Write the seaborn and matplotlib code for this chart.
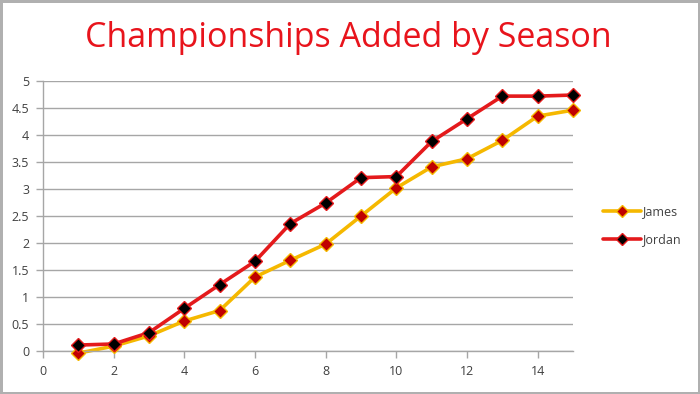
import numpy as np
import pandas as pd
import matplotlib
matplotlib.use("Agg")
import matplotlib.pyplot as plt
import seaborn as sns
from matplotlib.lines import Line2D

seasons = list(range(1, 16))
james = [-0.04, 0.09, 0.28, 0.555, 0.75, 1.37, 1.68, 1.98, 2.50, 3.02, 3.41, 3.56, 3.90, 4.35, 4.46]
jordan = [0.11, 0.13, 0.34, 0.79, 1.23, 1.66, 2.36, 2.74, 3.21, 3.23, 3.88, 4.30, 4.72, 4.72, 4.74]
series_names = ["James", "Jordan"]
title = "Championships Added by Season"
x_ticks = [0, 2, 4, 6, 8, 10, 12, 14]
y_ticks = [0, 0.5, 1, 1.5, 2, 2.5, 3, 3.5, 4, 4.5, 5]
y_labels = ["0", "0.5", "1", "1.5", "2", "2.5", "3", "3.5", "4", "4.5", "5"]

df = pd.DataFrame({
    "Season": seasons * 2,
    "Value": james + jordan,
    "Player": [series_names[0]] * len(seasons) + [series_names[1]] * len(seasons),
})

sns.set_theme(style="white")
plt.rcParams["font.family"] = ["Open Sans", "DejaVu Sans"]

fig = plt.figure(figsize=(7.0, 3.94), dpi=100)
fig.patch.set_facecolor("white")
fig.patch.set_edgecolor("#b0b0b0")
fig.patch.set_linewidth(2.5)
ax = fig.add_axes([43 / 700, 43 / 394, 530 / 700, 270 / 394])

line_colors = {"James": "#f5b800", "Jordan": "#e41a1c"}
marker_face = {"James": "#c00000", "Jordan": "#000000"}
marker_edge = {"James": "#f5b800", "Jordan": "#e41a1c"}

sns.lineplot(data=df, x="Season", y="Value", hue="Player", palette=line_colors,
             linewidth=2.6, ax=ax, legend=False)
for ln in ax.lines:
    ln.set_clip_on(False)
for name in series_names:
    sub = df[df["Player"] == name]
    ax.plot(sub["Season"], sub["Value"], linestyle="none", marker="D", markersize=7,
            markerfacecolor=marker_face[name], markeredgecolor=marker_edge[name],
            markeredgewidth=1.0, zorder=5, clip_on=False)

ax.set_xlim(0, 15)
ax.set_ylim(0, 5)
ax.set_xticks(x_ticks)
ax.set_xticklabels([str(t) for t in x_ticks])
ax.set_yticks(y_ticks)
ax.set_yticklabels(y_labels)
ax.set_xlabel("")
ax.set_ylabel("")
ax.yaxis.grid(True, color="#a6a6a6", linewidth=1.0)
ax.xaxis.grid(False)
ax.set_axisbelow(True)
for s in ["top", "right"]:
    ax.spines[s].set_visible(False)
for s in ["left", "bottom"]:
    ax.spines[s].set_color("#a6a6a6")
    ax.spines[s].set_linewidth(1.0)
ax.tick_params(axis="both", which="both", direction="out", length=5, width=1.0,
               color="#a6a6a6", labelsize=9, labelcolor="#404040", pad=5)
ax.tick_params(axis="x", bottom=True)
ax.tick_params(axis="y", left=True)
ax.patch.set_alpha(0)

handles = [Line2D([0], [0], color=line_colors[n], linewidth=2.6, marker="D", markersize=6,
                  markerfacecolor=marker_face[n], markeredgecolor=marker_edge[n])
           for n in series_names]
leg = fig.legend(handles, series_names, loc="center left", bbox_to_anchor=(598 / 700, 1 - 226 / 394),
                 frameon=False, fontsize=9, handlelength=3.0, handletextpad=0.1,
                 labelspacing=1.2, borderaxespad=0)
for t in leg.get_texts():
    t.set_color("#404040")

fig.text(0.497, 1 - 38 / 394, title, ha="center", va="center", fontsize=24.5,
         color="#e8141c")

fig.savefig("out.png", dpi=100)
